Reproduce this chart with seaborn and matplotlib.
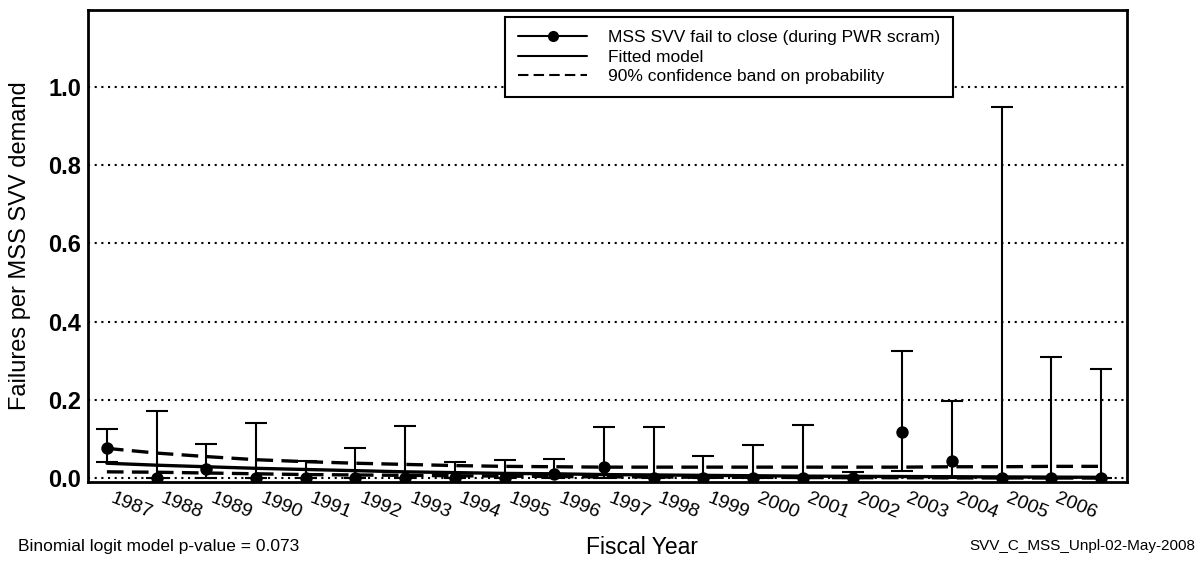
import numpy as np
import pandas as pd
import matplotlib
matplotlib.use("Agg")
import matplotlib.pyplot as plt
from matplotlib.lines import Line2D
import seaborn as sns

# ---- data ----
year_labels = [str(y) for y in range(1987, 2007)]
point_index = list(range(21))
fail_rate = [0.077, 0.0, 0.022, 0.0, 0.0, 0.0, 0.0, 0.0, 0.0, 0.011, 0.029,
             0.0, 0.0, 0.0, 0.0, 0.0, 0.117, 0.044, 0.0, 0.0, 0.0]
upper_bound = [0.125, 0.171, 0.087, 0.140, 0.043, 0.078, 0.133, 0.042, 0.046, 0.048, 0.131,
               0.131, 0.056, 0.084, 0.136, 0.015, 0.324, 0.197, 0.949, 0.310, 0.280]
lower_bound = [0.040, 0.0, 0.0, 0.0, 0.0, 0.0, 0.0, 0.0, 0.0, 0.0, 0.0,
               0.0, 0.0, 0.0, 0.0, 0.0, 0.018, 0.0, 0.0, 0.0, 0.0]
fitted = [0.038, 0.033, 0.029, 0.025, 0.022, 0.019, 0.016, 0.014, 0.012, 0.011, 0.009,
          0.008, 0.007, 0.006, 0.005, 0.0045, 0.004, 0.0035, 0.003, 0.0025, 0.002]
band_upper = [0.076, 0.064, 0.055, 0.047, 0.042, 0.038, 0.035, 0.032, 0.030, 0.029, 0.028,
              0.028, 0.028, 0.028, 0.028, 0.028, 0.028, 0.029, 0.029, 0.030, 0.030]
band_lower = [0.016, 0.015, 0.013, 0.011, 0.009, 0.008, 0.007, 0.006, 0.005, 0.004, 0.003,
              0.003, 0.002, 0.002, 0.0015, 0.001, 0.001, 0.0005, 0.0003, 0.0002, 0.0001]
y_ticks = [0.0, 0.2, 0.4, 0.6, 0.8, 1.0]

sns.set_theme(style="white")
plt.rcParams["font.family"] = ["Liberation Sans", "DejaVu Sans"]
plt.rcParams["text.color"] = "black"
plt.rcParams["axes.labelcolor"] = "black"
plt.rcParams["xtick.color"] = "black"
plt.rcParams["ytick.color"] = "black"

df = pd.DataFrame({"x": point_index, "rate": fail_rate, "up": upper_bound,
                   "lo": lower_bound, "fit": fitted, "bu": band_upper, "bl": band_lower})

fig = plt.figure(figsize=(12.01, 5.66), dpi=100)
ax = fig.add_axes([88 / 1201, 1 - 482 / 566, (1127 - 88) / 1201, (482 - 10) / 566])

dash = (0, (5, 2.5))
sns.lineplot(data=df, x="x", y="fit", ax=ax, color="black", lw=2.4, legend=False)
sns.lineplot(data=df, x="x", y="bu", ax=ax, color="black", lw=2.4, legend=False)
sns.lineplot(data=df, x="x", y="bl", ax=ax, color="black", lw=2.4, legend=False)
ax.lines[1].set_linestyle(dash)
ax.lines[2].set_linestyle(dash)

rate = np.array(fail_rate)
yerr = np.vstack([rate - np.array(lower_bound), np.array(upper_bound) - rate])
ax.errorbar(point_index, fail_rate, yerr=yerr, fmt="none", ecolor="black",
            elinewidth=1.5, capsize=8, capthick=1.5)
sns.scatterplot(data=df, x="x", y="rate", ax=ax, color="black", s=80,
                edgecolor="black", linewidth=0, zorder=5, legend=False)

ax.set_xlim(-0.38, 20.52)
ax.set_ylim(-0.01, 1.197)
ax.set_yticks(y_ticks)
ax.set_yticklabels([f"{v:.1f}" for v in y_ticks], fontsize=17, fontweight="bold", color="black")
ax.set_xticks([i + 0.5 for i in range(len(year_labels))])
ax.set_xticklabels(year_labels, fontsize=14, rotation=-22, ha="center", va="center", color="black")
ax.tick_params(axis="x", length=0, pad=17)
ax.tick_params(axis="y", length=0, pad=5)
ax.yaxis.grid(True, linestyle=(0, (1, 2.2)), color="black", lw=1.5)
ax.xaxis.grid(False)
ax.set_axisbelow(True)
for s in ax.spines.values():
    s.set_color("black")
    s.set_linewidth(2)

ax.set_xlabel("")
ax.set_ylabel("Failures per MSS SVV demand", fontsize=17, labelpad=12, color="black")

handles = [
    Line2D([], [], color="black", lw=1.5, marker="o", markersize=7),
    Line2D([], [], color="black", lw=1.5),
    Line2D([], [], color="black", lw=1.5, linestyle=(0, (5, 2.5))),
]
labels = ["MSS SVV fail to close (during PWR scram)", "Fitted model",
          "90% confidence band on probability"]
leg = fig.legend(handles, labels, loc="upper left", bbox_to_anchor=(505 / 1201, 1 - 17 / 566),
                 frameon=True, fancybox=False, framealpha=1, edgecolor="black",
                 fontsize=12.5, handlelength=4, handletextpad=1.2, labelspacing=0.25,
                 borderpad=0.75, borderaxespad=0)
leg.get_frame().set_linewidth(1.5)
for t in leg.get_texts():
    t.set_color("black")

fig.text(642 / 1201, 1 - 548 / 566, "Fiscal Year", fontsize=16.5, ha="center", va="center",
         color="black")
fig.text(18 / 1201, 1 - 546 / 566, "Binomial logit model p-value = 0.073", fontsize=12.5,
         ha="left", va="center", color="black")
fig.text(1195 / 1201, 1 - 546 / 566, "SVV_C_MSS_Unpl-02-May-2008", fontsize=11,
         ha="right", va="center", color="black")

fig.savefig("out.png", dpi=100)
